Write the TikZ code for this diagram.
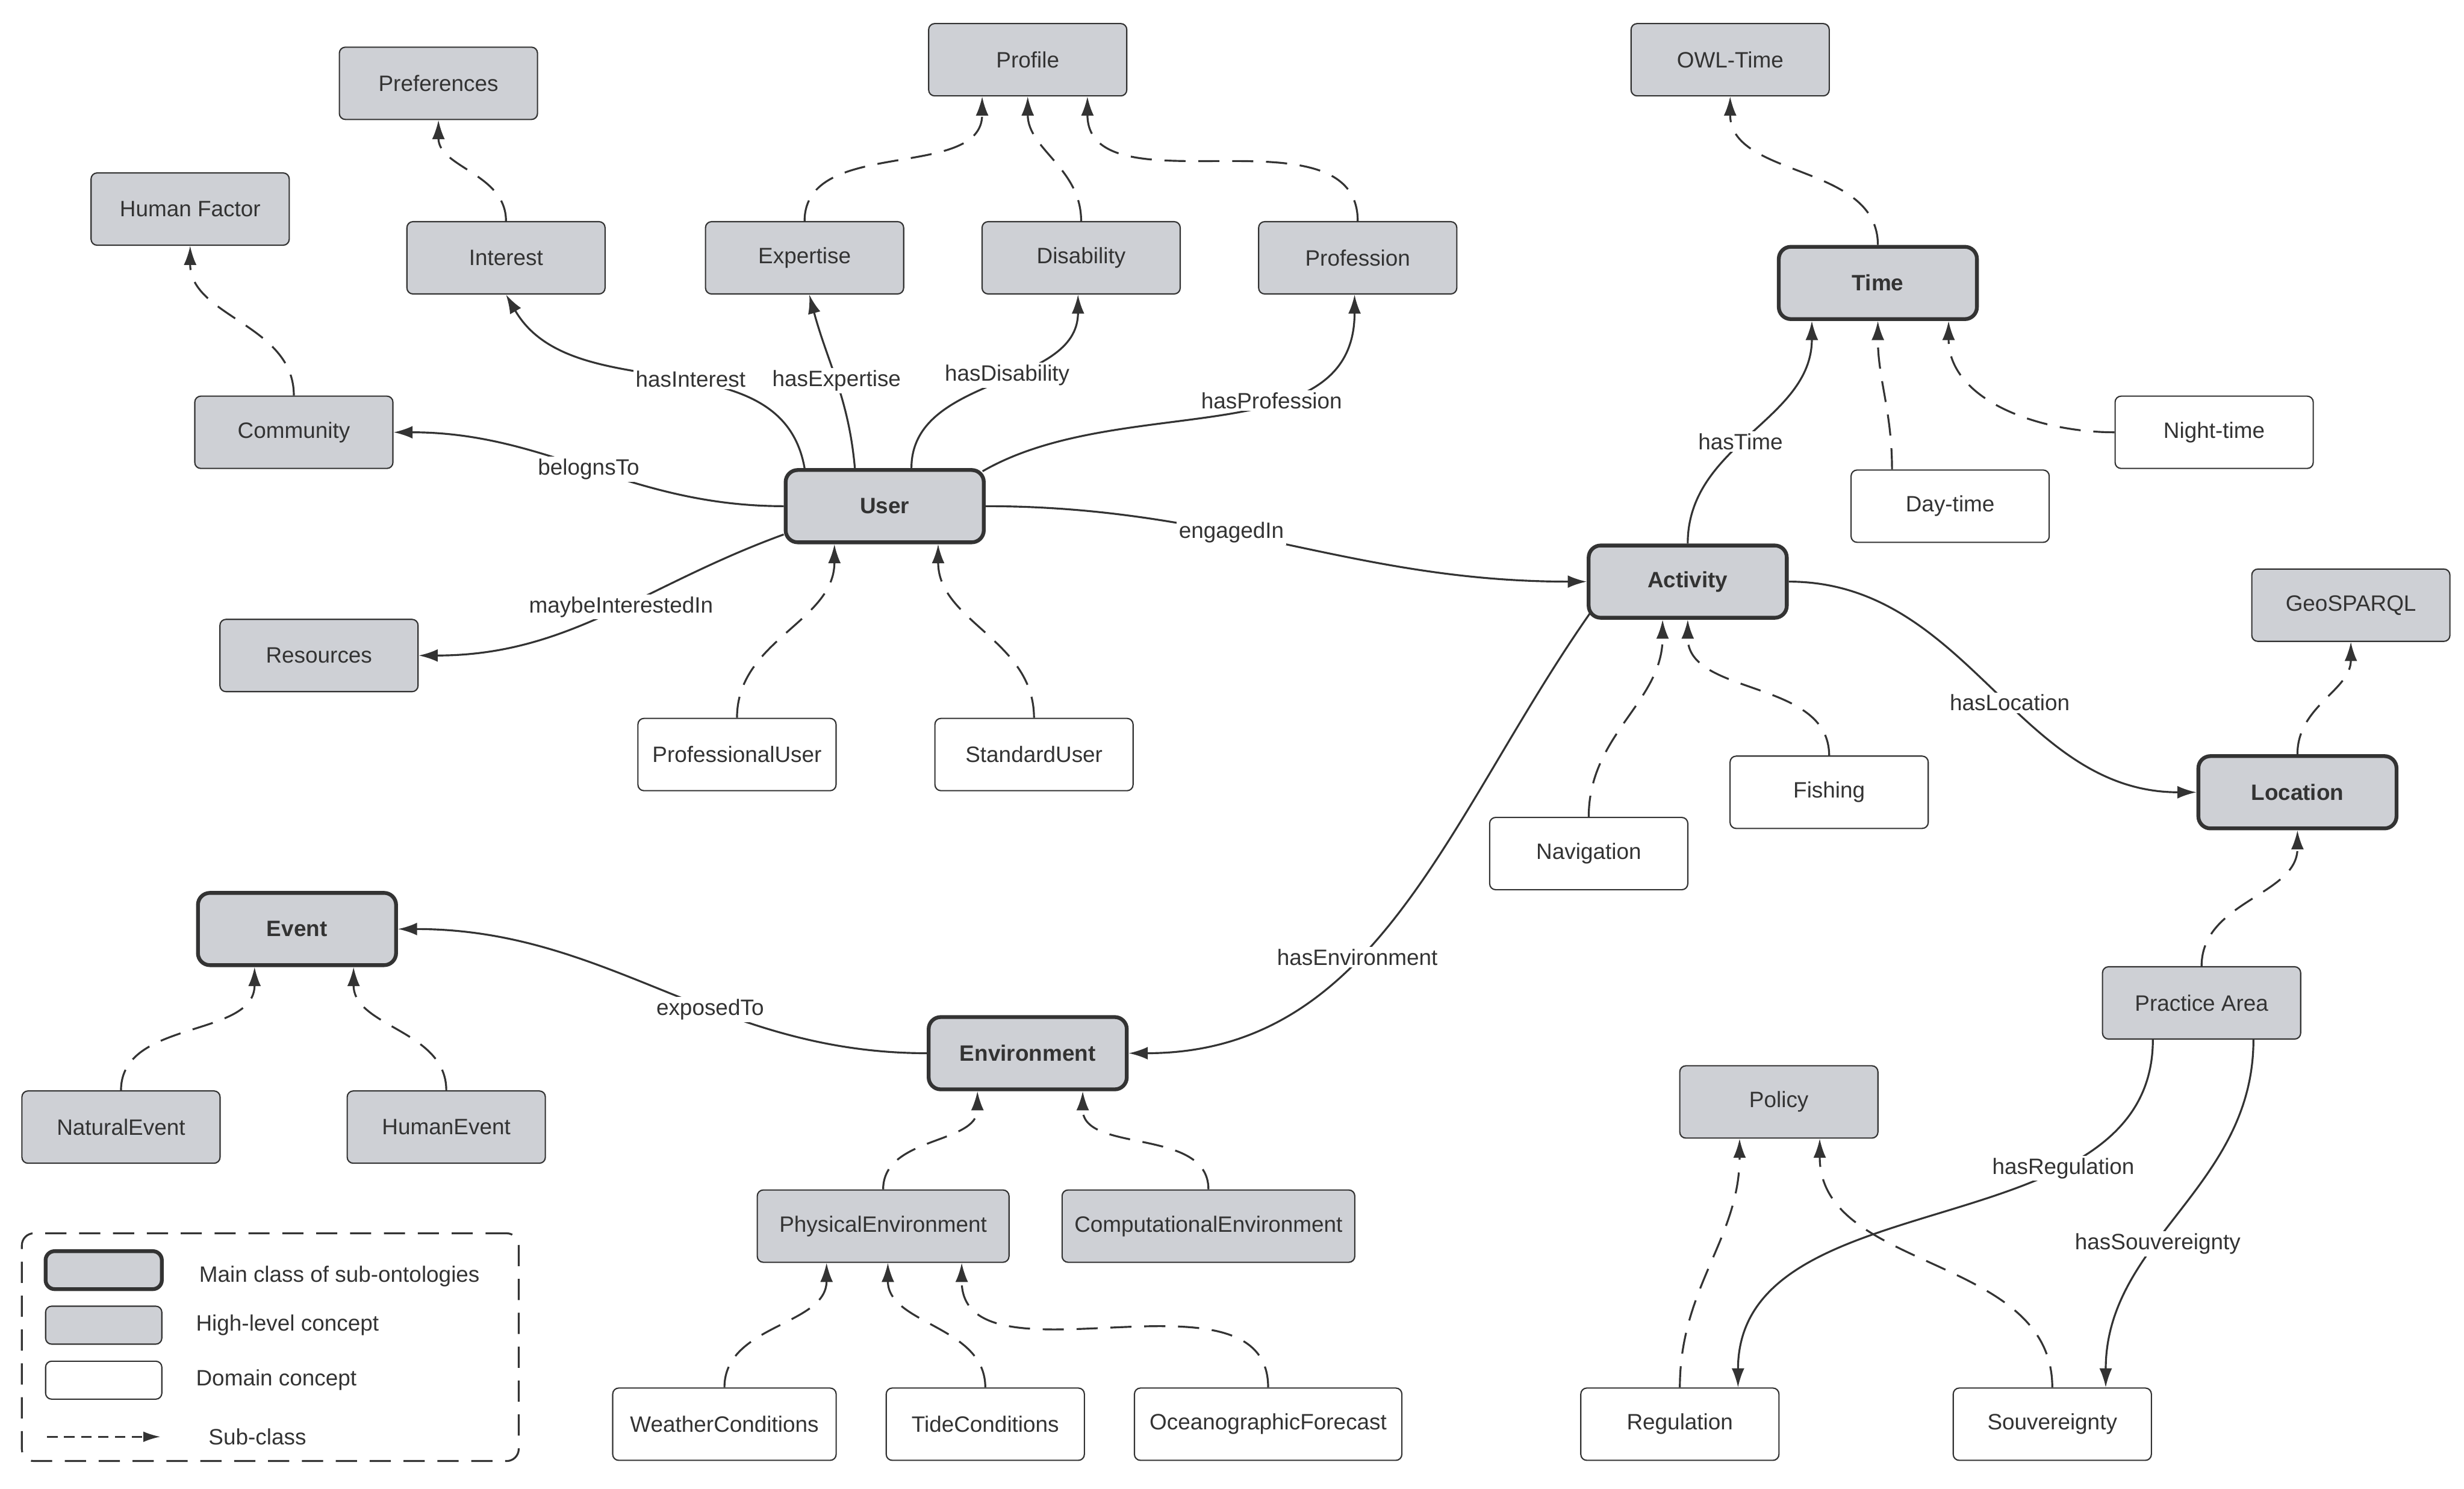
\documentclass[tikz,border=0pt]{standalone}
\usepackage{fontspec}
\setmainfont{Liberation Sans}
\usetikzlibrary{arrows.meta,calc}
\definecolor{gr}{HTML}{CED0D5}
\definecolor{ln}{HTML}{333333}
\begin{document}
\begin{tikzpicture}[x=0.0261cm,y=-0.0261cm,
 base/.style={draw=ln,rounded corners=0.1cm,minimum width=3.29cm,minimum height=1.2cm,font=\fontsize{10.5}{12}\selectfont,text=ln,line width=0.6pt,inner sep=2pt},
 hl/.style={base,fill=gr},
 dom/.style={base,fill=white},
 main/.style={base,fill=gr,line width=1.8pt,rounded corners=0.2cm,font=\fontsize{10.5}{12}\selectfont\bfseries},
 sub/.style={draw=ln,line width=0.9pt,dash pattern=on 10pt off 6pt,-{Latex[length=9pt,width=6pt]}},
 rel/.style={draw=ln,line width=0.9pt,-{Latex[length=9pt,width=6pt]}},
 lbl/.style={fill=white,inner sep=1pt,font=\fontsize{10.5}{12}\selectfont,text=ln},
 lt/.style={font=\fontsize{10.5}{12}\selectfont,text=ln,anchor=west}]
\useasboundingbox (0,0) rectangle (1568,947);
\node[hl] (profile) at (654,38) {Profile};
\node[hl] (pref) at (279,53) {Preferences};
\node[hl] (hf) at (121,133) {Human Factor};
\node[hl] (interest) at (322,164) {Interest};
\node[hl] (expertise) at (512,164) {Expertise};
\node[hl] (disab) at (688,164) {Disability};
\node[hl] (prof) at (864,164) {Profession};
\node[hl] (owl) at (1101,38) {OWL-Time};
\node[main] (time) at (1195,180) {Time};
\node[hl] (comm) at (187,275) {Community};
\node[main] (user) at (563,322) {User};
\node[dom] (night) at (1409,275) {Night-time};
\node[dom] (day) at (1241,322) {Day-time};
\node[main] (act) at (1074,370) {Activity};
\node[hl] (geo) at (1496,385) {GeoSPARQL};
\node[hl] (res) at (203,417) {Resources};
\node[dom] (pu) at (469,480) {ProfessionalUser};
\node[dom] (su) at (658,480) {StandardUser};
\node[dom] (fish) at (1164,504) {Fishing};
\node[main] (loc) at (1462,504) {Location};
\node[dom] (nav) at (1011,543) {Navigation};
\node[main] (event) at (189,591) {Event};
\node[hl] (pa) at (1401,638) {Practice Area};
\node[main] (env) at (654,670) {Environment};
\node[hl] (policy) at (1132,701) {Policy};
\node[hl] (ne) at (77,717) {NaturalEvent};
\node[hl] (he) at (284,717) {HumanEvent};
\node[hl,minimum width=4.18cm] (pe) at (562,780) {PhysicalEnvironment};
\node[hl,minimum width=4.86cm] (ce) at (769,780) {ComputationalEnvironment};
\node[dom,minimum width=3.71cm] (wc) at (461,906) {WeatherConditions};
\node[dom] (tc) at (627,906) {TideConditions};
\node[dom,minimum width=4.44cm] (of) at (807,906) {OceanographicForecast};
\node[dom] (reg) at (1069,906) {Regulation};
\node[dom] (sov) at (1306,906) {Souvereignty};
% relations
\draw[rel] ($(user.north)+(-51,0)$) to[out=100,in=-60] node[lbl,pos=0.45] {hasInterest} (interest.south);
\draw[rel] ($(user.north)+(-19,0)$) to[out=95,in=-75] node[lbl,pos=0.5] {hasExpertise} ($(expertise.south)+(3,0)$);
\draw[rel] ($(user.north)+(17,0)$) to[out=90,in=-90] node[lbl,pos=0.55] {hasDisability} ($(disab.south)+(-2,0)$);
\draw[rel] ($(user.north east)+(-2,2)$) to[out=30,in=-90] node[lbl,pos=0.62] {hasProfession} ($(prof.south)+(-2,0)$);
\draw[rel] (user.west) to[out=180,in=0] node[lbl,pos=0.5] {belognsTo} (comm.east);
\draw[rel] ($(user.west)+(0,18)$) to[out=200,in=0] node[lbl,pos=0.45] {maybeInterestedIn} (res.east);
\draw[rel] (user.east) to[out=0,in=180] node[lbl,pos=0.4] {engagedIn} (act.west);
\draw[rel] (act.north) to[out=90,in=-90] node[lbl,pos=0.45] {hasTime} ($(time.south)+(-42,0)$);
\draw[rel] (act.east) to[out=0,in=180] node[lbl,pos=0.55] {hasLocation} (loc.west);
\draw[rel] ($(act.south west)+(2,-4)$) to[out=-125,in=0] node[lbl,pos=0.6] {hasEnvironment} (env.east);
\draw[rel] (env.west) to[out=180,in=0] node[lbl,pos=0.4] {exposedTo} (event.east);
\draw[rel] ($(pa.south)+(-31,0)$) to[out=-90,in=90] node[lbl,pos=0.3] {hasRegulation} ($(reg.north)+(37,0)$);
\draw[rel] ($(pa.south)+(33,0)$) to[out=-90,in=90] node[lbl,pos=0.6] {hasSouvereignty} ($(sov.north)+(34,0)$);
% subclass
\draw[sub] (interest.north) to[out=90,in=-90] ($(pref.south)+(0,0)$);
\draw[sub] (comm.north) to[out=90,in=-90] (hf.south);
\draw[sub] (expertise.north) to[out=90,in=-90] ($(profile.south)+(-29,0)$);
\draw[sub] (disab.north) to[out=90,in=-90] (profile.south);
\draw[sub] (prof.north) to[out=90,in=-90] ($(profile.south)+(38,0)$);
\draw[sub] (time.north) to[out=90,in=-90] (owl.south);
\draw[sub] (night.west) to[out=180,in=-90] ($(time.south)+(45,0)$);
\draw[sub] ($(day.north)+(-37,0)$) to[out=90,in=-90] (time.south);
\draw[sub] (pu.north) to[out=90,in=-90] ($(user.south)+(-32,0)$);
\draw[sub] (su.north) to[out=90,in=-90] ($(user.south)+(34,0)$);
\draw[sub] (nav.north) to[out=90,in=-90] ($(act.south)+(-16,0)$);
\draw[sub] (fish.north) to[out=90,in=-90] (act.south);
\draw[sub] (loc.north) to[out=90,in=-90] (geo.south);
\draw[sub] (pa.north) to[out=90,in=-90] (loc.south);
\draw[sub] (ne.north) to[out=90,in=-90] ($(event.south)+(-27,0)$);
\draw[sub] (he.north) to[out=90,in=-90] ($(event.south)+(36,0)$);
\draw[sub] (pe.north) to[out=90,in=-90] ($(env.south)+(-32,0)$);
\draw[sub] (ce.north) to[out=90,in=-90] ($(env.south)+(35,0)$);
\draw[sub] (wc.north) to[out=90,in=-90] ($(pe.south)+(-36,0)$);
\draw[sub] (tc.north) to[out=90,in=-90] ($(pe.south)+(3,0)$);
\draw[sub] (of.north) to[out=90,in=-90] ($(pe.south)+(50,0)$);
\draw[sub] (reg.north) to[out=90,in=-90] ($(policy.south)+(-25,0)$);
\draw[sub] (sov.north) to[out=90,in=-90] ($(policy.south)+(26,0)$);
% legend
\node[draw=ln,line width=0.9pt,dash pattern=on 10pt off 6pt,rounded corners=0.2cm,minimum width=8.25cm,minimum height=3.78cm] (leg) at (172,857) {};
\node[main,minimum width=1.93cm,minimum height=0.63cm,rounded corners=0.15cm] (l1) at (66,808) {};
\node[hl,minimum width=1.93cm,minimum height=0.63cm] (l2) at (66,843) {};
\node[dom,minimum width=1.93cm,minimum height=0.63cm] (l3) at (66,878) {};
\coordinate (l4a) at (30,914); \coordinate (l4b) at (102,914);
\draw[draw=ln,line width=0.7pt,dash pattern=on 5pt off 3pt,-{Latex[length=8pt,width=5pt]}] (l4a) -- (l4b);
\node[lt] (t1) at (122,812) {Main class of sub-ontologies};
\node[lt] (t2) at (120,843) {High-level concept};
\node[lt] (t3) at (120,878) {Domain concept};
\node[lt] (t4) at (128,914) {Sub-class};
\end{tikzpicture}
\end{document}
